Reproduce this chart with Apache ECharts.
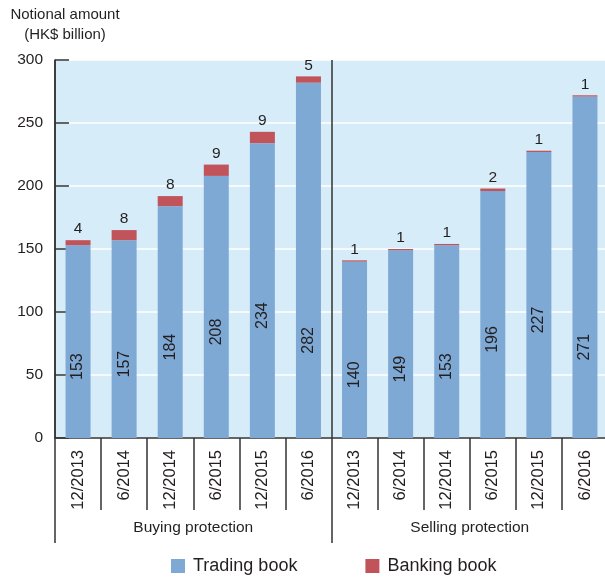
<!DOCTYPE html>
<html>
<head>
<meta charset="utf-8">
<script src="https://cdn.jsdelivr.net/npm/echarts@6/dist/echarts.min.js"></script>
<style>
  html, body { margin: 0; padding: 0; background: #fff; overflow: hidden; }
  /* a bit wider than the window so the plot's right edge line is cut off */
  #chart { width: 610px; height: 579px; }
</style>
</head>
<body>
<div id="chart"></div>
<script>
// categories
const periods = ['12/2013', '6/2014', '12/2014', '6/2015', '12/2015', '6/2016'];
const groups = ['Buying protection', 'Selling protection'];

// HK$ billion
const tradingBuying = [153, 157, 184, 208, 234, 282];
const bankingBuying = [4, 8, 8, 9, 9, 5];
const tradingSelling = [140, 149, 153, 196, 227, 271];
const bankingSelling = [1, 1, 1, 2, 1, 1];

const categories = periods.concat(periods);
const trading = tradingBuying.concat(tradingSelling);
const banking = bankingBuying.concat(bankingSelling);

const font = 'Liberation Sans, Arial, sans-serif';
const ink = '#231f20';

const myChart = echarts.init(document.getElementById('chart'));

// trading labels sit a little under the bar middle, tallest ones lower
// (label is rotated, so offset is in the rotated frame: -x = down)
const tradingData = trading.map((v, i) => {
  const last = i % 6 === 5;
  return { value: v, label: { offset: [last ? -80 : -25, 0] } };
});

const option = {
  animation: false,
  textStyle: { fontFamily: font },
  title: {
    text: 'Notional amount\n(HK$ billion)',
    left: 65,
    top: 5,
    padding: 0,
    textAlign: 'center',
    textStyle: { fontFamily: font, fontSize: 15, fontWeight: 'normal', color: ink, lineHeight: 20 }
  },
  legend: {
    left: 171,
    top: 557,
    padding: 0,
    itemWidth: 14,
    itemHeight: 14,
    itemGap: 68,
    icon: 'rect',
    textStyle: { fontFamily: font, fontSize: 18, color: ink, padding: [0, 0, 0, 3] },
    data: ['Trading book', 'Banking book']
  },
  grid: {
    left: 55,
    right: 2,
    top: 60,
    bottom: 141,
    show: true,
    backgroundColor: '#d6ecf9',
    borderWidth: 0
  },
  xAxis: [
    {
      type: 'category',
      data: categories,
      axisLine: { lineStyle: { color: '#333', width: 1.5 } },
      axisTick: { show: true, interval: 0, length: 72, lineStyle: { color: '#333', width: 1.5 } },
      axisLabel: {
        interval: 0,
        rotate: 90,
        margin: 12,
        fontFamily: font,
        fontSize: 16.5,
        color: ink
      },
      splitLine: { show: false }
    },
    {
      type: 'category',
      data: groups,
      position: 'bottom',
      axisLine: { show: false },
      axisTick: { show: true, interval: 0, length: 105, lineStyle: { color: '#333', width: 1.5 } },
      axisLabel: { margin: 82, fontFamily: font, fontSize: 15.5, color: ink },
      splitLine: { show: true, interval: 0, lineStyle: { color: '#333', width: 1.5 } }
    }
  ],
  yAxis: {
    type: 'value',
    min: 0,
    max: 300,
    interval: 50,
    axisLine: { show: true, lineStyle: { color: '#333', width: 1.5 } },
    axisTick: { show: true, inside: true, length: 14, lineStyle: { color: '#333', width: 1.5 } },
    axisLabel: { margin: 12, fontFamily: font, fontSize: 15.5, color: ink },
    splitLine: { show: true, lineStyle: { color: '#ffffff', width: 1.5 } }
  },
  series: [
    {
      name: 'Trading book',
      type: 'bar',
      stack: 'total',
      barWidth: 25,
      itemStyle: { color: '#7ea9d5' },
      label: {
        show: true,
        position: 'inside',
        rotate: 90,
        fontFamily: font,
        fontSize: 16,
        color: ink
      },
      data: tradingData
    },
    {
      name: 'Banking book',
      type: 'bar',
      stack: 'total',
      barWidth: 25,
      itemStyle: { color: '#c0545a' },
      label: {
        show: true,
        position: 'top',
        distance: 3,
        fontFamily: font,
        fontSize: 15.5,
        color: ink
      },
      data: banking
    }
  ]
};

myChart.setOption(option);
</script>
</body>
</html>
